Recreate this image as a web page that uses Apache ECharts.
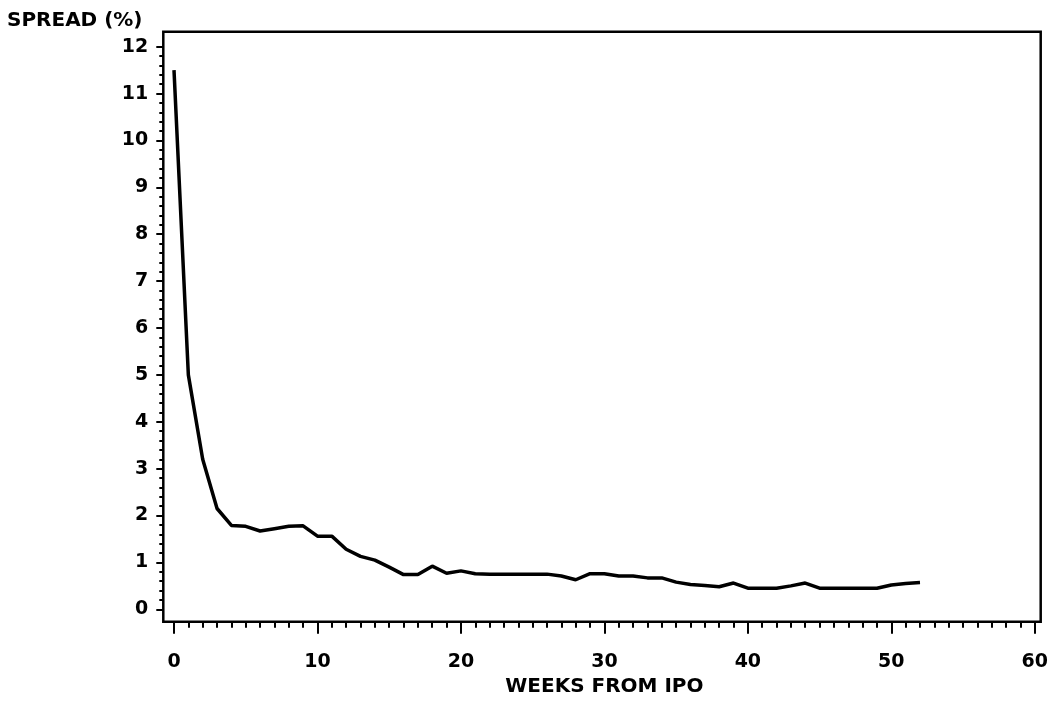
<!DOCTYPE html>
<html>
<head>
<meta charset="utf-8">
<script src="https://cdn.jsdelivr.net/npm/echarts@6/dist/echarts.min.js"></script>
<style>
  html, body { margin: 0; padding: 0; background: #ffffff; }
  #chart { width: 1051px; height: 722px; }
</style>
</head>
<body>
<div id="chart"></div>
<script>
// ---- data ----
const weeks = [0,1,2,3,4,5,6,7,8,9,10,11,12,13,14,15,16,17,18,19,20,21,22,23,24,25,26,
               27,28,29,30,31,32,33,34,35,36,37,38,39,40,41,42,43,44,45,46,47,48,49,50,51,52];
const spread = [11.5,5.0,3.2,2.15,1.79,1.77,1.67,1.72,1.77,1.78,1.56,1.56,1.28,1.13,1.05,0.90,0.74,0.74,0.92,0.77,0.82,0.76,0.75,0.75,0.75,0.75,0.75,
                0.71,0.63,0.76,0.76,0.71,0.71,0.67,0.67,0.58,0.53,0.51,0.48,0.56,0.45,0.45,0.45,0.50,0.56,0.45,0.45,0.45,0.45,0.45,0.52,0.55,0.57];
const yTitle = 'SPREAD (%)';
const xTitle = 'WEEKS FROM IPO';

const FONT = '"DejaVu Sans", sans-serif';
const chart = echarts.init(document.getElementById('chart'));
const option = {
  backgroundColor: '#ffffff',
  animation: false,
  title: {
    text: yTitle,
    left: 7, top: 11, padding: 0,
    textStyle: { fontFamily: FONT, fontWeight: 'bold', fontSize: 20, color: '#000' }
  },
  grid: [
    { left: 174, right: 15.7, top: 46.7, bottom: 112.7 },
    { left: 163.3, right: 10.3, top: 31.7, bottom: 100.3, show: true,
      borderColor: '#000', borderWidth: 2.5, backgroundColor: 'transparent' }
  ],
  xAxis: [
    {
      type: 'value', gridIndex: 0, min: 0, max: 60, interval: 10,
      offset: 12.4,
      axisLine: { show: false, onZero: false },
      axisTick: { show: true, length: 12, lineStyle: { color: '#000', width: 2 } },
      minorTick: { show: true, splitNumber: 10, length: 6, lineStyle: { color: '#000', width: 2 } },
      splitLine: { show: false },
      axisLabel: { margin: 31, fontFamily: FONT, fontWeight: 'bold', fontSize: 19, color: '#000' },
      name: xTitle, nameLocation: 'middle', nameGap: 46,
      nameTextStyle: { fontFamily: FONT, fontWeight: 'bold', fontSize: 20, color: '#000' }
    },
    { type: 'value', gridIndex: 1, show: false, min: 0, max: 1 }
  ],
  yAxis: [
    {
      type: 'value', gridIndex: 0, min: 0, max: 12, interval: 1,
      offset: 10.7,
      axisLine: { show: false, onZero: false },
      axisTick: { show: true, length: 7, lineStyle: { color: '#000', width: 2 } },
      minorTick: { show: true, splitNumber: 5, length: 4, lineStyle: { color: '#000', width: 2 } },
      splitLine: { show: false },
      axisLabel: { margin: 15, fontFamily: FONT, fontWeight: 'bold', fontSize: 19, color: '#000' }
    },
    { type: 'value', gridIndex: 1, show: false, min: 0, max: 1 }
  ],
  series: [{
    type: 'line',
    xAxisIndex: 0, yAxisIndex: 0,
    data: weeks.map((w, i) => [w, spread[i]]),
    showSymbol: false,
    symbol: 'none',
    lineStyle: { color: '#000', width: 3.5 },
    silent: true
  }]
};
chart.setOption(option);
</script>
</body>
</html>
